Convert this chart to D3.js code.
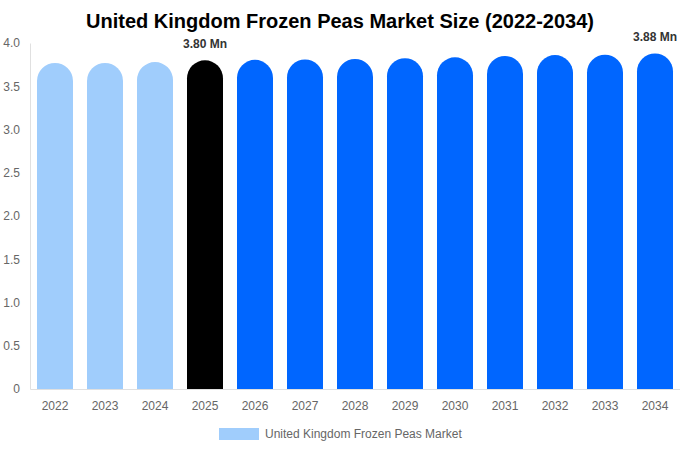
<!DOCTYPE html>
<html>
<head>
<meta charset="utf-8">
<script src="https://cdn.jsdelivr.net/npm/d3@7"></script>
<style>
  body { margin: 0; background: #fff; }
  text { font-family: "Liberation Sans", Arial, sans-serif; }
</style>
</head>
<body>
<div id="chart"></div>
<script>
const years = ["2022", "2023", "2024", "2025", "2026", "2027", "2028", "2029", "2030", "2031", "2032", "2033", "2034"];
const values = [3.77, 3.77, 3.78, 3.80, 3.805, 3.81, 3.815, 3.825, 3.835, 3.85, 3.86, 3.865, 3.88];
const yTicks = [0, 0.5, 1.0, 1.5, 2.0, 2.5, 3.0, 3.5, 4.0];
const labelled = { "2025": "3.80 Mn", "2034": "3.88 Mn" };

const width = 680, height = 450;
const margin = { top: 43, right: 0, bottom: 61, left: 30 };

const svg = d3.select("#chart").append("svg")
  .attr("width", width)
  .attr("height", height);

const x = d3.scaleBand(years, [margin.left, width - margin.right])
  .paddingInner(0.28)
  .paddingOuter(0.14);
const y = d3.scaleLinear([0, 4], [height - margin.bottom, margin.top]);

const barColor = (yr) => {
  if (+yr < 2025) return "#a0cdfc";
  if (+yr === 2025) return "#000000";
  return "#0066ff";
};

svg.append("text")
  .attr("x", width / 2)
  .attr("y", 28)
  .attr("text-anchor", "middle")
  .attr("font-size", 20)
  .attr("font-weight", "bold")
  .attr("fill", "#000")
  .text("United Kingdom Frozen Peas Market Size (2022-2034)");

// y axis
const yAxis = svg.append("g")
  .attr("transform", `translate(${margin.left},0)`)
  .call(d3.axisLeft(y).tickValues(yTicks).tickSize(0).tickPadding(10)
    .tickFormat((d) => d === 0 ? "0" : d3.format(".1f")(d)));
yAxis.select(".domain").attr("stroke", "#e0e0e0");
yAxis.selectAll("text").attr("font-size", 12).attr("fill", "#666");

// x axis
const xAxis = svg.append("g")
  .attr("transform", `translate(0,${height - margin.bottom})`)
  .call(d3.axisBottom(x).tickSize(0).tickPadding(12));
xAxis.select(".domain").attr("stroke", "#e0e0e0");
xAxis.selectAll("text").attr("font-size", 12).attr("fill", "#666");

// bars with rounded tops
const bw = x.bandwidth();
const r = bw / 2;
svg.append("g")
  .selectAll("path")
  .data(years)
  .join("path")
  .attr("fill", (d) => barColor(d))
  .attr("d", (d, i) => {
    const x0 = x(d), x1 = x0 + bw;
    const yb = y(0), yt = y(values[i]);
    return `M${x0},${yb} L${x0},${yt + r} A${r},${r} 0 0 1 ${x1},${yt + r} L${x1},${yb} Z`;
  });

// value labels
svg.append("g")
  .selectAll("text")
  .data(years.filter((d) => labelled[d]))
  .join("text")
  .attr("x", (d) => x(d) + bw / 2)
  .attr("y", (d) => y(values[years.indexOf(d)]) - 12)
  .attr("text-anchor", "middle")
  .attr("font-size", 12)
  .attr("font-weight", "bold")
  .attr("fill", "#333")
  .text((d) => labelled[d]);

// legend
const legend = svg.append("g").attr("transform", "translate(219,428)");
legend.append("rect")
  .attr("width", 40)
  .attr("height", 12)
  .attr("fill", "#a0cdfc");
legend.append("text")
  .attr("x", 46)
  .attr("y", 10)
  .attr("font-size", 12)
  .attr("fill", "#666")
  .text("United Kingdom Frozen Peas Market");
</script>
</body>
</html>
